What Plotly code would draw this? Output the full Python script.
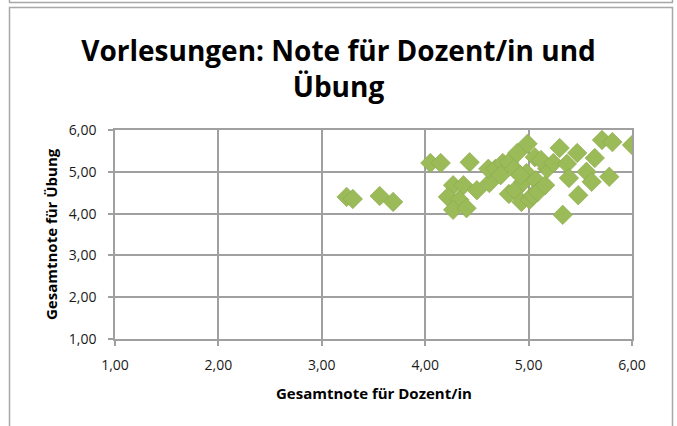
import plotly.graph_objects as go

# Data
dozent = [3.24, 3.30, 3.56, 3.69, 4.05, 4.15, 4.43, 4.27, 4.37, 4.22,
          4.33, 4.27, 4.40, 4.50, 4.62, 4.61, 4.68, 4.75, 4.81, 4.86,
          4.89, 4.99, 5.06, 4.81, 4.87, 4.93, 5.01, 4.98, 4.95, 5.07,
          5.04, 5.09, 5.16, 5.18, 5.12, 5.24, 5.30, 5.37, 5.39, 5.47,
          5.56, 5.61, 5.48, 5.33, 5.64, 5.71, 5.81, 6.00, 5.78, 4.92,
          4.73]
uebung = [4.40, 4.35, 4.42, 4.28, 5.21, 5.21, 5.23, 4.68, 4.68, 4.40,
          4.33, 4.09, 4.13, 4.56, 4.73, 5.07, 5.07, 5.21, 5.23, 5.07,
          5.45, 5.67, 5.35, 4.47, 4.56, 4.28, 4.33, 4.97, 4.76, 4.80,
          4.44, 4.52, 4.68, 5.07, 5.28, 5.21, 5.57, 5.19, 4.85, 5.45,
          5.00, 4.76, 4.44, 3.97, 5.33, 5.76, 5.71, 5.64, 4.88, 4.92,
          4.92]

tick_vals = [1, 2, 3, 4, 5, 6]
tick_text = ["1,00", "2,00", "3,00", "4,00", "5,00", "6,00"]

title_text = "Vorlesungen: Note für Dozent/in und<br>Übung"
x_title = "Gesamtnote für Dozent/in"
y_title = "Gesamtnote für Übung"

FONT = "Open Sans"
GRID = "#a0a0a0"

fig = go.Figure()
fig.add_trace(go.Scatter(
    x=dozent, y=uebung, mode="markers",
    marker=dict(symbol="diamond", size=15, color="#9bbb59",
                line=dict(color="#8aa84e", width=0.6)),
    hoverinfo="x+y", showlegend=False,
))

W, H = 677, 426
L, R, T, B = 115, 632, 130, 339


def px(x):
    return (x - L) / (R - L)


def py(y):
    return (B - y) / (B - T)


axis_common = dict(
    range=[1, 6], tickvals=tick_vals, ticktext=tick_text,
    showgrid=True, gridcolor=GRID, gridwidth=1.6,
    showline=True, linecolor=GRID, linewidth=1.6,
    ticks="outside", ticklen=5, tickcolor=GRID, tickwidth=1.6,
    zeroline=False, tickfont=dict(family=FONT, size=14, color="#1a1a1a"),
    fixedrange=True, mirror=True,
)

fig.update_layout(
    width=W, height=H,
    margin=dict(l=L, r=W - R, t=T, b=H - B),
    paper_bgcolor="white", plot_bgcolor="white",
    title=dict(text=title_text, x=0.5, xanchor="center", xref="container",
               y=1 - 61 / H, yanchor="middle",
               font=dict(family=FONT, size=28, color="#000000", weight="bold")),
    xaxis=dict(**axis_common, ticklabelstandoff=7),
    yaxis=dict(**axis_common, ticklabelstandoff=9),
    annotations=[
        dict(text=x_title, xref="paper", yref="paper", x=px(373.5), y=py(393),
             xanchor="center", yanchor="middle", showarrow=False,
             font=dict(family=FONT, size=15, color="#000", weight="bold")),
        dict(text=y_title, xref="paper", yref="paper", x=px(51), y=py(234),
             xanchor="center", yanchor="middle", showarrow=False, textangle=-90,
             font=dict(family=FONT, size=15, color="#000", weight="bold")),
    ],
    shapes=[
        # previous chart's bottom frame at top
        dict(type="line", xref="paper", yref="paper", x0=px(9), x1=px(673),
             y0=py(2.5), y1=py(2.5), line=dict(color="#a8a8a8", width=1.5)),
        dict(type="line", xref="paper", yref="paper", x0=px(9.5), x1=px(9.5),
             y0=py(-2), y1=py(2.5), line=dict(color="#a8a8a8", width=1.5)),
        dict(type="line", xref="paper", yref="paper", x0=px(672.5), x1=px(672.5),
             y0=py(-2), y1=py(2.5), line=dict(color="#a8a8a8", width=1.5)),
        # chart frame
        dict(type="rect", xref="paper", yref="paper", x0=px(9.5), x1=px(672.5),
             y0=py(440), y1=py(7.5), line=dict(color="#a8a8a8", width=1.5),
             fillcolor="rgba(0,0,0,0)", layer="below"),
    ],
)

fig.write_html("out.html", config={"displayModeBar": False},
               post_script="document.body.style.margin='0';document.body.style.overflow='hidden';")
